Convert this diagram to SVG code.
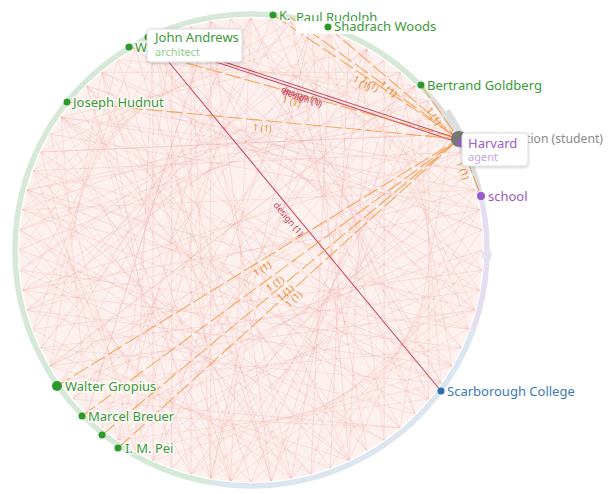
<svg xmlns="http://www.w3.org/2000/svg" width="608" height="494" viewBox="0 0 608 494">
<style>
text{font-family:"Noto Sans","Liberation Sans",sans-serif}
.chA{fill:none;stroke:#f2a3a3;stroke-width:0.8;opacity:0.36}
.chB{fill:none;stroke:#f4b29c;stroke-width:0.8;opacity:0.36}
.chC{fill:none;stroke:#eeaab6;stroke-width:0.8;opacity:0.32}
.ring{fill:none;stroke-width:5.5}
.red{stroke:#c2304b;stroke-width:1.1;fill:none;opacity:0.85}
.org{stroke:#f39030;stroke-width:1.1;fill:none;stroke-dasharray:16 4;opacity:0.75}
.lr{fill:#c44055;font-size:9px;text-anchor:middle}
.lo{fill:#e8892a;font-size:9.5px;text-anchor:middle}
.nl{fill:#3a9a3a;font-size:13px;paint-order:stroke;stroke:#fff;stroke-width:3;stroke-opacity:0.8}
.gd{fill:#2a9a2a}
.box{fill:#fff;stroke:#dcdcdc;stroke-width:1}
</style>
<defs>
<filter id="sh" x="-20%" y="-20%" width="140%" height="160%"><feDropShadow dx="0" dy="1" stdDeviation="1.5" flood-color="#000" flood-opacity="0.2"/></filter>
</defs>
<circle cx="251" cy="250" r="232" fill="#fcf1ef"/>
<g id="ring">
<path class="ring" stroke="#d6e9d8" d="M210 482.4 A236 236 0 1 1 431.8 98.3"/>
<path class="ring" stroke="#dedede" d="M431.8 98.3 A236 236 0 0 1 479 188.9"/>
<path class="ring" stroke="#e4def0" d="M479 188.9 A236 236 0 0 1 472.8 330.7"/>
<path class="ring" stroke="#dbe6f0" d="M472.8 330.7 A236 236 0 0 1 210 482.4"/>
<path fill="none" stroke="#dedede" stroke-width="11" d="M445 112 A236 236 0 0 1 465 150"/>
<circle cx="487" cy="255" r="5" fill="#e4e2ea"/>
</g>
<g id="connectors">
<path class="chA" d="M483 250L60.9 383.1L330.3 32L311 474.1L33 170.7L461.3 152L171.7 468L171.7 32L461.3 348L22.5 290.3L384.1 59.9L384.1 440.1L19.9 229.8L428.7 100.9L230.8 481.1L101.9 72.3L482.1 270.2L33 329.3L291.3 21.5L367 450.9L60.9 116.9L475.1 190L117.9 440.1L230.8 18.9L441.1 383.1L22.5 209.7L400.1 72.3L271.2 481.1L135 49.1L475.1 310L50.1 366L251 18L415.1 414.1L40.7 152L451.9 134L210.7 478.5L86.9 85.9L482.1 229.8L86.9 414.1L210.7 21.5L469 329.3L19.9 270.2L349 39.7L330.3 468L73.3 100.9L469 170.7L153 460.3L153 39.7L451.9 366L26.9 310L367 49.1L291.3 478.5L50.1 134L479.5 209.7L101.9 427.7L271.2 18.9L428.7 399.1L19 250L415.1 85.9L251 482L117.9 59.9L479.5 290.3L40.7 348L311 25.9L349 460.3L26.9 190L441.1 116.9L191 474.1L191 25.9L400.1 427.7L73.3 399.1"/>
<path class="chB" d="M483 250L291.3 478.5L22.5 290.3L171.7 32L451.9 134L400.1 427.7L86.9 414.1L60.9 116.9L367 49.1L469 329.3L191 474.1L26.9 190L271.2 18.9L482.1 229.8L311 474.1L33 329.3L135 49.1L428.7 100.9L428.7 399.1L117.9 440.1L40.7 152L311 25.9L482.1 270.2L251 482L19 250L210.7 21.5L475.1 190L349 460.3L50.1 366L101.9 72.3L400.1 72.3L451.9 366L153 460.3L33 170.7L291.3 21.5L479.5 290.3L230.8 481.1L19.9 229.8L230.8 18.9L479.5 209.7L330.3 468L40.7 348L117.9 59.9L415.1 85.9L441.1 383.1L135 450.9L50.1 134L330.3 32L475.1 310L210.7 478.5L22.5 209.7L251 18"/>
<path class="chC" d="M483 250L135 450.9L153 39.7L482.1 270.2L117.9 440.1L171.7 32L475.1 310L86.9 414.1L210.7 21.5L461.3 348L60.9 383.1L251 18L441.1 383.1L40.7 348L291.3 21.5L415.1 414.1L26.9 310L330.3 32L384.1 440.1L19.9 270.2L367 49.1L349 460.3L19.9 229.8L400.1 72.3L311 474.1L26.9 190L428.7 100.9L271.2 481.1L40.7 152L451.9 134L230.8 481.1L60.9 116.9L469 170.7L191 474.1L86.9 85.9L479.5 209.7L171.7 468L101.9 72.3L482.1 229.8"/>
<path class="chB" d="M479.5 290.3L33 170.7L441.1 383.1L86.9 85.9L367 450.9L153 39.7L230.8 481.1L251 18L135 450.9L384.1 59.9L73.3 399.1L451.9 134L26.9 310L475.1 190L22.5 209.7L469 329.3L60.9 116.9L428.7 399.1L101.9 72.3L291.3 478.5L191 25.9L210.7 478.5L330.3 32L117.9 440.1L415.1 85.9L50.1 366L469 170.7"/>
<path class="chA" d="M475.1 310L26.9 190L451.9 366L60.9 116.9L400.1 427.7L86.9 85.9L349 460.3L153 39.7L271.2 481.1L210.7 21.5L210.7 478.5L311 25.9L153 460.3L367 49.1L73.3 399.1L415.1 85.9L50.1 366L461.3 152L22.5 290.3L479.5 209.7"/>
<line class="red" x1="148" y1="37" x2="441" y2="391"/>
<line class="red" x1="148" y1="37" x2="459" y2="139"/>
<line class="red" x1="150" y1="40" x2="457" y2="142"/>
<line class="org" x1="129" y1="47" x2="459" y2="139"/>
<line class="org" x1="67" y1="102" x2="459" y2="139"/>
<line class="org" x1="273" y1="15" x2="459" y2="139"/>
<line class="org" x1="290" y1="17" x2="459" y2="139"/>
<line class="org" x1="328" y1="27" x2="459" y2="139"/>
<line class="org" x1="421" y1="85" x2="459" y2="139"/>
<line class="org" x1="459" y1="139" x2="481" y2="196"/>
<line class="org" x1="57" y1="386" x2="459" y2="139"/>
<line class="org" x1="82" y1="416" x2="459" y2="139"/>
<line class="org" x1="102" y1="435" x2="459" y2="139"/>
<line class="org" x1="118" y1="448" x2="459" y2="139"/>
<text class="lr" transform="translate(294.5,214) rotate(50.4)" x="0" y="11">design (1)</text>
<text class="lr" transform="translate(303.5,88) rotate(18.2)" x="0" y="11">design (1)</text>
<text class="lr" transform="translate(303.5,91) rotate(18.4)" x="1" y="10">design (1)</text>
<text class="lo" transform="translate(294,93) rotate(15.6)" x="0" y="12">1 (1)</text>
<text class="lo" transform="translate(263,120.5) rotate(5.4)" x="0" y="11">1 (1)</text>
<text class="lo" transform="translate(366,77) rotate(33.7)" x="0" y="11">1 (1)</text>
<text class="lo" transform="translate(374.5,78) rotate(35.8)" x="0" y="11">1 (1)</text>
<text class="lo" transform="translate(393.5,83) rotate(40.5)" x="0" y="11">1 (1)</text>
<text class="lo" transform="translate(440,112) rotate(54.9)" x="0" y="11">1 (1)</text>
<text class="lo" transform="translate(470,167.5) rotate(68.9)" x="0" y="11">1 (1)</text>
<text class="lo" transform="translate(258,262.5) rotate(-31.6)" x="0" y="11">1 (1)</text>
<text class="lo" transform="translate(270.5,277.5) rotate(-36.3)" x="0" y="11">1 (1)</text>
<text class="lo" transform="translate(280.5,287) rotate(-39.7)" x="0" y="11">1 (1)</text>
<text class="lo" transform="translate(288.5,293.5) rotate(-42.2)" x="0" y="11">1 (1)</text>
</g>
<g id="node-k">
<circle class="gd" cx="273" cy="15" r="3.5"/>
<text class="nl" x="279" y="20">K.</text>
</g>
<g id="node-paul-rudolph">
<text class="nl" x="296" y="22">Paul Rudolph</text>
</g>
<g id="node-shadrach-woods">
<rect x="296" y="21" width="144" height="13" fill="#fff" opacity="0.9"/>
<circle class="gd" cx="328" cy="27" r="3.5"/>
<text class="nl" x="334" y="31">Shadrach Woods</text>
</g>
<g id="node-bertrand-goldberg">
<circle class="gd" cx="421" cy="85" r="3.5"/>
<text class="nl" x="427" y="90">Bertrand Goldberg</text>
</g>
<g id="node-education-student">
<circle cx="459" cy="139" r="8" fill="#777"/>
<text x="603" y="143" text-anchor="end" font-size="12.2" fill="#8a8a8a">Education (student)</text>
</g>
<g id="node-harvard">
<circle cx="463" cy="143" r="5" fill="#9b59d0"/>
<rect class="box" x="462" y="133" width="66" height="33" rx="3" filter="url(#sh)"/>
<text x="468" y="148" font-size="13" fill="#a05cc8">Harvard</text>
<text x="468" y="161" font-size="11" fill="#c5a6e0">agent</text>
</g>
<g id="node-school">
<circle cx="481" cy="196" r="4" fill="#9b59d0"/>
<text class="nl" x="488" y="201" style="fill:#9b59c8">school</text>
</g>
<g id="node-scarborough-college">
<circle cx="441" cy="391" r="3.5" fill="#2a70b0"/>
<text class="nl" x="447" y="396" style="fill:#3d7ab8">Scarborough College</text>
</g>
<g id="node-im-pei">
<circle class="gd" cx="118" cy="448" r="3.5"/>
<text class="nl" x="125" y="453">I. M. Pei</text>
</g>
<g id="node-unlabelled">
<circle class="gd" cx="102" cy="435" r="3.5"/>
</g>
<g id="node-marcel-breuer">
<circle class="gd" cx="82" cy="416" r="3.5"/>
<text class="nl" x="88" y="421">Marcel Breuer</text>
</g>
<g id="node-walter-gropius">
<circle class="gd" cx="57" cy="386" r="5"/>
<text class="nl" x="65" y="391">Walter Gropius</text>
</g>
<g id="node-joseph-hudnut">
<circle class="gd" cx="67" cy="102" r="3.5"/>
<text class="nl" x="73" y="107">Joseph Hudnut</text>
</g>
<g id="node-wi">
<circle class="gd" cx="129" cy="47" r="3.5"/>
<text class="nl" x="135" y="52">Wi</text>
</g>
<g id="node-john-andrews">
<circle class="gd" cx="148" cy="37" r="3.5"/>
<rect class="box" x="147" y="29" width="95" height="33" rx="3" filter="url(#sh)"/>
<text x="155" y="42" font-size="13" fill="#3a9a3a">John Andrews</text>
<text x="155" y="56" font-size="11" fill="#8fcf8f">architect</text>
</g>
</svg>
